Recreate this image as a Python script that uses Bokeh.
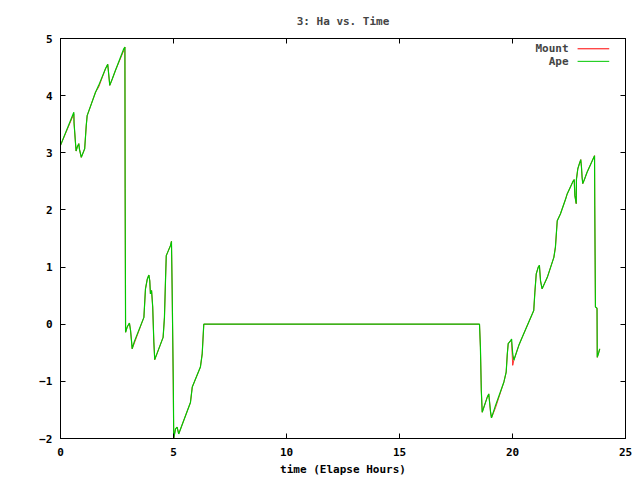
from bokeh.plotting import figure
from bokeh.models import LinearAxis, FixedTicker, Label, Range1d
from bokeh.embed import file_html
from bokeh.resources import INLINE

# ---- data ----
time_h = [0.00, 0.59, 0.60, 0.66, 0.69, 0.74, 0.81, 0.84, 0.92, 1.07, 1.14, 1.18,
          1.55, 1.69, 1.99, 2.09, 2.18, 2.29, 2.43, 2.80, 2.85, 2.86, 2.88, 2.95,
          3.05, 3.10, 3.15, 3.17, 3.27, 3.69, 3.76, 3.84, 3.91, 3.95, 3.98, 4.03,
          4.08, 4.13, 4.17, 4.54, 4.60, 4.65, 4.68, 4.87, 4.91, 4.94, 4.99, 5.01,
          5.09, 5.16, 5.23, 5.75, 5.83, 6.19, 6.27, 6.34, 18.54, 18.58, 18.62, 18.66,
          18.88, 18.95, 18.98, 19.03, 19.07, 19.25, 19.62, 19.72, 19.77, 19.81, 19.91, 19.96,
          20.01, 20.06, 20.28, 20.43, 20.94, 20.99, 21.05, 21.14, 21.19, 21.24, 21.31, 21.54,
          21.83, 21.90, 21.95, 21.98, 22.12, 22.35, 22.42, 22.69, 22.73, 22.76, 22.82, 22.83,
          22.89, 22.96, 23.02, 23.05, 23.08, 23.11, 23.19, 23.30, 23.63, 23.64, 23.67, 23.74,
          23.75, 23.82, 23.86]

ha_ape = [3.13, 3.71, 3.52, 3.19, 3.03, 3.10, 3.16, 3.06, 2.92, 3.07, 3.48, 3.65,
          4.06, 4.18, 4.47, 4.55, 4.18, 4.29, 4.44, 4.82, 4.85, 2.37, -0.14, -0.05,
          0.02, -0.11, -0.33, -0.43, -0.30, 0.12, 0.62, 0.79, 0.86, 0.76, 0.53, 0.59,
          0.30, -0.31, -0.62, -0.23, 0.12, 0.82, 1.20, 1.38, 1.45, 0.62, -0.98, -2.00,
          -1.83, -1.80, -1.92, -1.37, -1.10, -0.75, -0.52, 0.00, 0.00, -0.40, -1.16, -1.54,
          -1.28, -1.22, -1.34, -1.54, -1.64, -1.42, -1.01, -0.84, -0.52, -0.34, -0.29, -0.26,
          -0.52, -0.63, -0.37, -0.23, 0.24, 0.56, 0.88, 1.00, 1.03, 0.76, 0.62, 0.82,
          1.17, 1.35, 1.64, 1.81, 1.93, 2.19, 2.28, 2.51, 2.53, 2.25, 2.11, 2.54,
          2.72, 2.81, 2.88, 2.76, 2.57, 2.46, 2.54, 2.66, 2.95, 2.08, 0.30, 0.28,
          -0.58, -0.49, -0.43]

ha_mount = [3.13, 3.68, 3.52, 3.19, 3.03, 3.10, 3.16, 3.06, 2.92, 3.07, 3.48, 3.65,
            4.06, 4.15, 4.47, 4.55, 4.18, 4.29, 4.44, 4.79, 4.85, 2.37, -0.14, -0.05,
            0.02, -0.11, -0.33, -0.43, -0.33, 0.12, 0.62, 0.79, 0.86, 0.76, 0.53, 0.59,
            0.30, -0.31, -0.62, -0.23, 0.12, 0.82, 1.20, 1.38, 1.45, 0.60, -1.10, -2.00,
            -1.83, -1.80, -1.92, -1.37, -1.10, -0.75, -0.52, 0.00, 0.00, -0.40, -1.16, -1.54,
            -1.28, -1.22, -1.34, -1.54, -1.64, -1.46, -1.01, -0.84, -0.52, -0.34, -0.29, -0.32,
            -0.72, -0.63, -0.37, -0.23, 0.24, 0.56, 0.88, 1.00, 1.03, 0.76, 0.62, 0.82,
            1.17, 1.35, 1.64, 1.81, 1.93, 2.19, 2.28, 2.51, 2.53, 2.25, 2.11, 2.54,
            2.72, 2.81, 2.88, 2.76, 2.57, 2.46, 2.54, 2.66, 2.95, 2.08, 0.30, 0.28,
            -0.58, -0.49, -0.43]

x_ticks = [0, 5, 10, 15, 20, 25]
y_ticks = [-2, -1, 0, 1, 2, 3, 4, 5]
series_names = ["Mount", "Ape"]
series_colors = ["#ff0000", "#00c800"]

FONT = "DejaVu Sans Mono"
FS = "11px"

p = figure(frame_width=565, frame_height=400,
           min_border_left=60, min_border_right=15, min_border_top=38, min_border_bottom=42,
           x_range=Range1d(0, 25), y_range=Range1d(-2, 5),
           output_backend="svg", toolbar_location=None,
           title="3: Ha vs. Time")
p.background_fill_color = "white"
p.border_fill_color = "white"
p.grid.visible = False
p.outline_line_color = "black"
p.outline_line_width = 1

p.title.align = "center"
p.title.text_font = FONT
p.title.text_font_size = FS
p.title.text_font_style = "bold"
p.title.standoff = 21

def style_axis(ax, ticks, labels=True):
    ax.ticker = FixedTicker(ticks=ticks)
    ax.major_tick_in = 5
    ax.major_tick_out = 0
    ax.minor_tick_line_color = None
    ax.axis_line_color = "black"
    ax.major_tick_line_color = "black"
    ax.major_label_text_font = FONT
    ax.major_label_text_font_style = "bold"
    ax.major_label_text_color = "black"
    ax.major_label_text_font_size = FS
    if not labels:
        ax.major_label_overrides = {t: "" for t in ticks}
        ax.major_label_standoff = 0

style_axis(p.xaxis[0], x_ticks)
style_axis(p.yaxis[0], y_ticks)
p.xaxis[0].major_label_standoff = 9
p.yaxis[0].major_label_standoff = 8
p.xaxis[0].axis_label = "time (Elapse Hours)"
p.xaxis[0].axis_label_text_font = FONT
p.xaxis[0].axis_label_text_font_size = FS
p.xaxis[0].axis_label_text_font_style = "bold"
p.xaxis[0].axis_label_text_color = "black"
p.xaxis[0].axis_label_standoff = 4

top_ax = LinearAxis()
style_axis(top_ax, x_ticks, labels=False)
p.add_layout(top_ax, "above")
right_ax = LinearAxis()
style_axis(right_ax, y_ticks, labels=False)
p.add_layout(right_ax, "right")

p.line(time_h, ha_mount, line_color=series_colors[0], line_width=0.8)
p.line(time_h, ha_ape, line_color=series_colors[1], line_width=1.2)

# y axis label (horizontal like gnuplot)
p.add_layout(Label(x=-1.55, y=1.47, text="HA", text_align="center", text_baseline="middle",
                   text_font=FONT, text_font_size=FS, text_font_style="bold"))

# legend (text right-aligned, sample line to the right)
leg_y = [4.82, 4.60]
for name, col, yy in zip(series_names, series_colors, leg_y):
    p.add_layout(Label(x=22.48, y=yy, text=name, text_align="right", text_baseline="middle",
                       text_font=FONT, text_font_size=FS, text_font_style="bold"))
    p.segment(x0=[22.88], y0=[yy], x1=[24.28], y1=[yy], line_color=col, line_width=1)

open("out.html", "w").write(file_html(p, INLINE))
